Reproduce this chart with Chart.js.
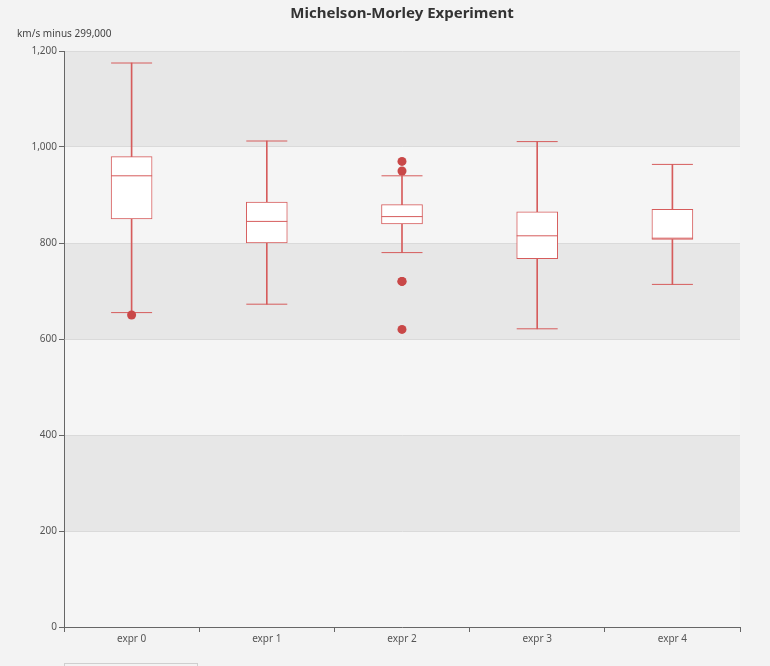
<!DOCTYPE html>
<html>
<head>
<meta charset="utf-8">
<script src="https://cdn.jsdelivr.net/npm/chart.js@4"></script>
<style>
  html, body { margin: 0; padding: 0; background: #f3f3f3; }
  #wrap { position: relative; width: 770px; height: 666px; }
  #slider { position: absolute; left: 64px; top: 663px; width: 134px; height: 10px; border: 1px solid #cfcfcf; box-sizing: border-box; }
</style>
</head>
<body>
<div id="wrap">
  <canvas id="boxChart"></canvas>
  <div id="slider"></div>
</div>
<script>
// ボックスプロットの値（5数要約と外れ値）
const categories = ['expr 0', 'expr 1', 'expr 2', 'expr 3', 'expr 4'];
const lowWhisker = [655, 672.5, 780, 621.25, 713.75];
const q1 = [850, 800, 840, 767.5, 807.5];
const median = [940, 845, 855, 815, 810];
const q3 = [980, 885, 880, 865, 870];
const highWhisker = [1175, 1012.5, 940, 1011.25, 963.75];
const outlierCat = [0, 2, 2, 2, 2, 2];
const outlierVal = [650, 620, 720, 720, 950, 970];
const yTicks = [0, 200, 400, 600, 800, 1000, 1200];

const lineColor = '#d65c5c';
const dotColor = '#c94848';
const font = 'Noto Sans';

const pointsOf = (vals) => vals.map((v, i) => ({ x: categories[i], y: v }));

// 背景の帯、タイトル（プロット領域の中央）、Y軸名
const splitArea = {
    id: 'splitArea',
    beforeDraw(chart) {
        const { ctx, chartArea } = chart;
        const y = chart.scales.y;
        ctx.save();
        for (let i = 0; i < yTicks.length - 1; i++) {
            const top = y.getPixelForValue(yTicks[i + 1]);
            const bottom = y.getPixelForValue(yTicks[i]);
            ctx.fillStyle = i % 2 === 0 ? '#f5f5f5' : '#e7e7e7';
            ctx.fillRect(chartArea.left, top, chartArea.right - chartArea.left, bottom - top);
        }
        ctx.restore();
    },
    afterDraw(chart) {
        const { ctx, chartArea } = chart;
        ctx.save();
        ctx.textBaseline = 'middle';
        ctx.font = 'bold 15px "' + font + '"';
        ctx.fillStyle = '#333';
        ctx.textAlign = 'center';
        ctx.fillText('Michelson-Morley Experiment', (chartArea.left + chartArea.right) / 2, 14);
        ctx.font = '10px "' + font + '"';
        ctx.fillStyle = '#444';
        ctx.textAlign = 'left';
        ctx.fillText('km/s minus 299,000', chartArea.left - 47, chartArea.top - 17);
        ctx.restore();
    }
};

const ctx = document.getElementById('boxChart').getContext('2d');
new Chart(ctx, {
    type: 'bar',
    data: {
        labels: categories,
        datasets: [
            {
                type: 'scatter',
                data: pointsOf(median),
                pointStyle: 'line',
                radius: 20.5,
                borderColor: lineColor,
                borderWidth: 1,
                order: 0
            },
            {
                type: 'scatter',
                data: pointsOf(lowWhisker).concat(pointsOf(highWhisker)),
                pointStyle: 'line',
                radius: 20.5,
                borderColor: lineColor,
                borderWidth: 1,
                order: 1
            },
            {
                type: 'scatter',
                data: outlierVal.map((v, i) => ({ x: categories[outlierCat[i]], y: v })),
                pointStyle: 'circle',
                radius: 4.5,
                backgroundColor: dotColor,
                borderWidth: 0,
                order: 0
            },
            {
                data: q1.map((v, i) => [v, q3[i]]),
                backgroundColor: '#ffffff',
                borderColor: lineColor,
                borderWidth: 1,
                borderSkipped: false,
                barThickness: 41,
                grouped: false,
                order: 2
            },
            {
                data: lowWhisker.map((v, i) => [v, q1[i]]),
                backgroundColor: lineColor,
                borderWidth: 0,
                barThickness: 1,
                grouped: false,
                order: 3
            },
            {
                data: q3.map((v, i) => [v, highWhisker[i]]),
                backgroundColor: lineColor,
                borderWidth: 0,
                barThickness: 1,
                grouped: false,
                order: 3
            }
        ]
    },
    options: {
        responsive: true,
        maintainAspectRatio: false,
        animation: false,
        layout: { padding: { left: 0, right: 30, top: 51, bottom: 0 } },
        plugins: {
            legend: { display: false },
            tooltip: { enabled: false },
            title: { display: false }
        },
        scales: {
            x: {
                type: 'category',
                offset: true,
                grid: { display: true, drawOnChartArea: false, offset: true, tickLength: 5, tickColor: '#666' },
                border: { color: '#666' },
                ticks: { color: '#555', padding: 1, font: { family: font, size: 10 } },
                afterFit(scale) { scale.height = 39; }
            },
            y: {
                min: 0,
                max: 1200,
                ticks: { stepSize: 200, color: '#555', padding: 2, font: { family: font, size: 10 } },
                grid: { color: '#dadada', tickColor: '#666', tickLength: 5 },
                border: { color: '#666' },
                afterFit(scale) { scale.width = 64; }
            }
        }
    },
    plugins: [splitArea]
});
</script>
</body>
</html>
